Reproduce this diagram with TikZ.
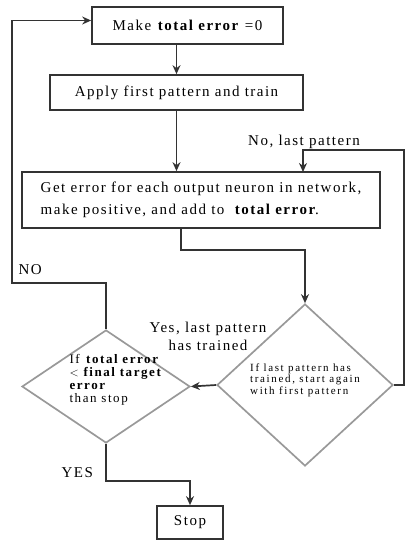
\documentclass[tikz,border=0pt]{standalone}
\usepackage{fontspec}
\setmainfont[LetterSpace=10]{Liberation Serif}
\newfontfamily\widefont[LetterSpace=15]{Liberation Serif}
\newfontfamily\widerfont[LetterSpace=12]{Liberation Serif}
\usetikzlibrary{shapes.geometric,positioning,arrows.meta}

\tikzstyle{box}=[draw=black!80, line width=1.7pt, inner sep=0pt, text centered, font=\fontsize{15}{22}\selectfont]
\tikzstyle{test}=[diamond, draw=black!40, line width=1.7pt, inner sep=0pt, align=left]
\tikzstyle{flow}=[draw=black!80, line width=1.7pt, -{Stealth[length=9pt,width=8pt]}]
\tikzstyle{tag}=[align=center, font=\fontsize{15}{18}\selectfont]

\begin{document}
\begin{tikzpicture}[x=1pt,y=1pt]
\useasboundingbox (0,0) rectangle (406,-541);
\node[box, minimum width=191pt, minimum height=37pt] (make) at (187.5,-25.5) {Make \textbf{total error} =0};
\node[box, minimum width=253pt, minimum height=35pt] (apply) at (176.5,-92.5) {Apply first pattern and train};
\node[box, minimum width=358pt, minimum height=56pt, align=left] (geterr) at (201,-200)
  {Get error for each output neuron in network,\\make positive, and add to \ \textbf{total error}.};
\node[test, minimum width=176pt, minimum height=162pt] (lastpat) at (305,-385) {};
\node[align=left, font=\widefont\fontsize{11}{11.5}\selectfont] (lastpattext) at ([yshift=5pt]lastpat.center)
  {If last pattern has\\trained, start again\\with first pattern};
\node[test, minimum width=168pt, minimum height=113pt] (done) at (106,-386.5) {};
\node[align=left, font=\widerfont\fontsize{13}{13}\selectfont] (donetext) at ([xshift=10pt,yshift=7pt]done.center)
  {If \textbf{total error}\\ $<$ \textbf{final target}\\\textbf{error}\\than stop};
\node[box, minimum width=66pt, minimum height=33pt] (stop) at (190,-522.5) {Stop};

\coordinate (noback) at (404,-150);
\coordinate (noin) at (303,-172);
\coordinate (gout) at (181,-228);
\coordinate (loop) at (12,-283);

\draw[flow] (make.south -| apply.north) -- (apply.north);
\draw[flow] (apply.south) -- (apply.south |- geterr.north);
\draw[flow] (lastpat.east) -| (noback) -| (noin);
\draw[flow] (gout) -- ++(0,-22) -| (lastpat.north);
\draw[flow] (lastpat.west) -- (done.east);
\draw[flow] (done.north) |- (loop) |- ([yshift=5pt]make.west);
\draw[flow] (done.south) -- ++(0,-37) -| (stop.north);

\node[tag] (nolast) at (304,-142) {No, last pattern};
\node[tag] (yeslast) at (208,-336) {Yes, last pattern\\has trained};
\node[tag, anchor=west] (no) at (15,-270) {NO};
\node[tag, anchor=west] (yes) at (58,-473) {YES};
\end{tikzpicture}
\end{document}
